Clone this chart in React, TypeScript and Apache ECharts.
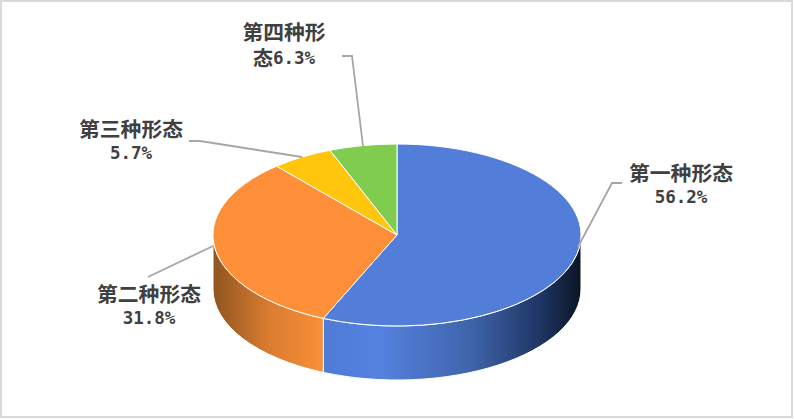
import React, { useEffect, useRef } from "react";
import * as echarts from "echarts";

const categories = ["第一种形态", "第二种形态", "第三种形态", "第四种形态"];
const values = [56.2, 31.8, 5.7, 6.3];
const labelLines = [
  ["第一种形态"],
  ["第二种形态"],
  ["第三种形态"],
  ["第四种形", "态"],
];
const topColors = ["#527ed9", "#ff8e38", "#ffc60d", "#80cc4f"];

const CX = 397;
const CY = 235;
const RX = 184;
const RY = 91;
const DEPTH = 54;
// slight perspective of the tilted disc: angles shift towards the viewer's left
const WARP = (3.4 * Math.PI) / 180;

const leaders: number[][][] = [
  [[578, 247], [612, 183], [622, 183]],
  [[213, 246], [148, 277]],
  [[302, 157], [200, 141], [189, 141]],
  [[363, 146], [352, 56], [342, 56]],
];
const labelCenters: number[][] = [
  [681, 184.5],
  [149, 305.5],
  [131, 140.5],
  [284, 44.5],
];

const pt = (t: number, dy = 0) => [CX + RX * Math.sin(t), CY - RY * Math.cos(t) + dy];
const warp = (t: number) => t - WARP * Math.sin(t);
const arc = (a: number, b: number, dy: number) => {
  const sweep = b > a ? 1 : 0;
  const large = Math.abs(b - a) > Math.PI ? 1 : 0;
  const e = pt(b, dy);
  return `A${RX} ${RY} 0 ${large} ${sweep} ${e[0]} ${e[1]}`;
};

function wallGradient(i: number) {
  if (i === 0) {
    return new echarts.graphic.LinearGradient(0, 0, 1, 0, [
      { offset: 0, color: "#4f7bd6" },
      { offset: 0.22, color: "#5582e0" },
      { offset: 0.58, color: "#3e63a8" },
      { offset: 0.85, color: "#1e3461" },
      { offset: 1, color: "#0a1424" },
    ]);
  }
  return new echarts.graphic.LinearGradient(0, 0, 1, 0, [
    { offset: 0, color: "#8f5520" },
    { offset: 0.5, color: "#d97b2f" },
    { offset: 1, color: "#fa8f38" },
  ]);
}

const cnStyle = {
  fontFamily: "'Noto Sans CJK SC'",
  fontSize: 20.8,
  fontWeight: 700,
  fill: "#404040",
  color: "#404040",
  lineHeight: 25,
};
const numStyle = {
  fontFamily: "'DejaVu Sans Mono'",
  fontSize: 17.5,
  fontWeight: 700,
  fill: "#404040",
  color: "#404040",
  lineHeight: 25,
};

export default function App() {
  const ref = useRef<HTMLDivElement>(null);
  useEffect(() => {
    const chart = echarts.init(ref.current!, null, { renderer: "svg" });
    const total = values.reduce((a, b) => a + b, 0);
    const renderItem = (params: any, api: any) => {
      const i = params.dataIndex;
      let before = 0;
      for (let k = 0; k < i; k++) before += values[k];
      const v = api.value(0);
      const a = warp((before / total) * Math.PI * 2);
      const b = warp(((before + v) / total) * Math.PI * 2);
      const children: any[] = [];
      const wa = Math.max(a, Math.PI / 2);
      const wb = Math.min(b, (Math.PI * 3) / 2);
      if (wb > wa) {
        const s = pt(wa);
        const e2 = pt(wb, DEPTH);
        children.push({
          type: "path",
          shape: {
            pathData: `M${s[0]} ${s[1]}${arc(wa, wb, 0)}L${e2[0]} ${e2[1]}${arc(wb, wa, DEPTH)}Z`,
          },
          style: { fill: wallGradient(i), stroke: "#ffffff", lineWidth: 1 },
        });
      }
      const s = pt(a);
      children.push({
        type: "path",
        shape: { pathData: `M${CX} ${CY}L${s[0]} ${s[1]}${arc(a, b, 0)}Z` },
        style: { fill: topColors[i], stroke: "#ffffff", lineWidth: 1 },
        z2: 10,
      });
      children.push({
        type: "polyline",
        shape: { points: leaders[i] },
        style: { fill: "none", stroke: "#a6a6a6", lineWidth: 1.8 },
        z2: i === 1 ? 5 : 20,
      });
      const lines = labelLines[i];
      const pct = `${v.toFixed(1)}%`;
      const text =
        lines.length > 1
          ? `{cnTop|${lines[0]}}\n{cnLow|${lines[1]}}{numLow|${pct}}`
          : `{cn|${lines[0]}}\n{num|${pct}}`;
      children.push({
        type: "text",
        x: labelCenters[i][0],
        y: labelCenters[i][1],
        z2: 30,
        style: {
          text,
          align: "center",
          verticalAlign: "middle",
          rich: {
            cn: cnStyle,
            num: numStyle,
            cnTop: { ...cnStyle, lineHeight: 26.5 },
            cnLow: { ...cnStyle, fontSize: 20, lineHeight: 26.5 },
            numLow: { ...numStyle, lineHeight: 26.5 },
          },
        },
      });
      return { type: "group", children };
    };
    chart.setOption({
      animation: false,
      backgroundColor: "#ffffff",
      series: [
        {
          type: "custom",
          coordinateSystem: "none",
          renderItem,
          clip: false,
          silent: true,
          data: values.map((v, i) => ({ name: categories[i], value: [v] })),
        },
      ],
      graphic: [
        {
          type: "rect",
          shape: { x: 1, y: 1, width: 791, height: 416 },
          style: { fill: "none", stroke: "#d9d9d9", lineWidth: 2 },
          silent: true,
        },
      ],
    });
    return () => chart.dispose();
  }, []);
  return (
    <div
      ref={ref}
      style={{ position: "fixed", left: 0, top: 0, width: 794, height: 419 }}
    />
  );
}
